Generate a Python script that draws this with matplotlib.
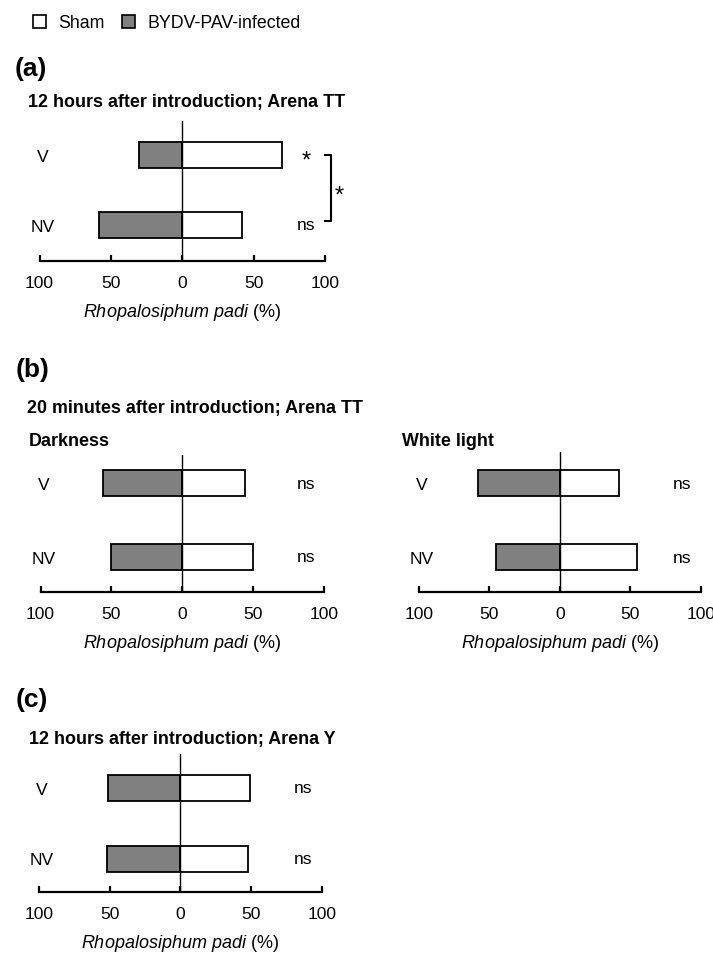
import matplotlib
matplotlib.use("Agg")
import matplotlib.pyplot as plt
from matplotlib.patches import Patch
from matplotlib.ticker import FuncFormatter

plt.rcParams['font.family'] = ['Liberation Sans', 'DejaVu Sans']
plt.rcParams['mathtext.fontset'] = 'custom'
plt.rcParams['mathtext.rm'] = 'Liberation Sans'
plt.rcParams['mathtext.it'] = 'Liberation Sans:italic'

# ---------------- data ----------------
categories = ['V', 'NV']
x_ticks = [-100, -50, 0, 50, 100]

a_sham = [70, 42]
a_infected = [30, 58]
a_signif = ['*', 'ns']

b_dark_sham = [44, 50]
b_dark_infected = [56, 50]
b_dark_signif = ['ns', 'ns']

b_light_sham = [42, 55]
b_light_infected = [58, 45]
b_light_signif = ['ns', 'ns']

c_sham = [49, 48]
c_infected = [51, 52]
c_signif = ['ns', 'ns']

legend_labels = ['Sham', 'BYDV-PAV-infected']
xlabel_text = r'$\mathit{Rhopalosiphum\ padi}$ (%)'

# ---------------- style ----------------
W, H = 713, 954
SHAM_COLOR = 'white'
INF_COLOR = '#808080'
BAR_PX = 26
FS = 12.6

fig = plt.figure(figsize=(W / 100, H / 100), dpi=100)


def panel(left, right, top, bottom, yV, yNV, sham, infected, signif):
    ax = fig.add_axes([left / W, 1 - bottom / H, (right - left) / W, (bottom - top) / H])
    scale = yNV - yV
    ax.set_xlim(-100, 100)
    ax.set_ylim(-(bottom - yNV) / scale, 1 + (yV - top) / scale)
    pos = [len(categories) - 1 - i for i in range(len(categories))]
    h = BAR_PX / scale
    ax.barh(pos, [-v for v in infected], height=h, color=INF_COLOR,
            edgecolor='black', linewidth=1.3, zorder=3)
    ax.barh(pos, sham, height=h, color=SHAM_COLOR,
            edgecolor='black', linewidth=1.3, zorder=3)
    ax.axvline(0, color='black', lw=1.0, zorder=4)
    for s in ['left', 'right', 'top']:
        ax.spines[s].set_visible(False)
    ax.spines['bottom'].set_linewidth(1.6)
    ax.set_xticks(x_ticks)
    ax.xaxis.set_major_formatter(FuncFormatter(lambda v, p: f'{abs(v):g}'))
    ax.tick_params(axis='x', direction='in', length=4, width=1.6, pad=10, labelsize=FS)
    ax.set_yticks(pos)
    ax.set_yticklabels(categories, fontsize=FS)
    ax.tick_params(axis='y', length=0, pad=-2)
    for t in ax.get_yticklabels():
        t.set_horizontalalignment('center')
    ax.set_xlabel(xlabel_text, fontsize=13, labelpad=8)
    for p, s in zip(pos, signif):
        if s == '*':
            ax.text(87, p - 0.08, s, ha='center', va='center', fontsize=17, clip_on=False)
        else:
            ax.text(87, p, s, ha='center', va='center', fontsize=FS, clip_on=False)
    return ax


def ftext(x, y, s, **kw):
    fig.text(x / W, 1 - y / H, s, **kw)


# legend
handles = [Patch(facecolor=SHAM_COLOR, edgecolor='black', linewidth=1.2),
           Patch(facecolor=INF_COLOR, edgecolor='black', linewidth=1.2)]
fig.legend(handles, legend_labels, loc='center left', bbox_to_anchor=(33 / W, 1 - 24 / H),
           frameon=False, ncol=2, fontsize=12.8, handlelength=0.72, handleheight=0.72,
           handletextpad=0.7, columnspacing=1.0, borderpad=0, borderaxespad=0)

TFS = 12.9
# panel (a)
ftext(15, 69, '(a)', fontsize=19, fontweight='bold', va='center', ha='left')
ftext(28, 103, '12 hours after introduction; Arena TT', fontsize=TFS, fontweight='bold',
      va='center', ha='left')
ax_a = panel(39.5, 325, 122, 261.7, 155.5, 225.5, a_sham, a_infected, a_signif)
# bracket between V and NV
ax_a.plot([100, 104, 104, 100], [1, 1, 0.05, 0.05], color='black', lw=1.5, clip_on=False)
ax_a.text(110, 0.42, '*', ha='center', va='center', fontsize=17, clip_on=False)

# panel (b)
ftext(16, 370, '(b)', fontsize=19, fontweight='bold', va='center', ha='left')
ftext(27, 408, '20 minutes after introduction; Arena TT', fontsize=TFS, fontweight='bold',
      va='center', ha='left')
ftext(29, 441, 'Darkness', fontsize=TFS, fontweight='bold', va='center', ha='left')
ftext(402, 441, 'White light', fontsize=TFS, fontweight='bold', va='center', ha='left')
panel(40.5, 324, 456, 593, 484.2, 557.5, b_dark_sham, b_dark_infected, b_dark_signif)
panel(419, 700.7, 453, 592.7, 484.2, 558.3, b_light_sham, b_light_infected, b_light_signif)

# panel (c)
ftext(16, 700, '(c)', fontsize=19, fontweight='bold', va='center', ha='left')
ftext(29, 740, '12 hours after introduction; Arena Y', fontsize=TFS, fontweight='bold',
      va='center', ha='left')
panel(39.3, 321.7, 755, 892.7, 788.7, 859.5, c_sham, c_infected, c_signif)

fig.savefig('out.png', dpi=100)
